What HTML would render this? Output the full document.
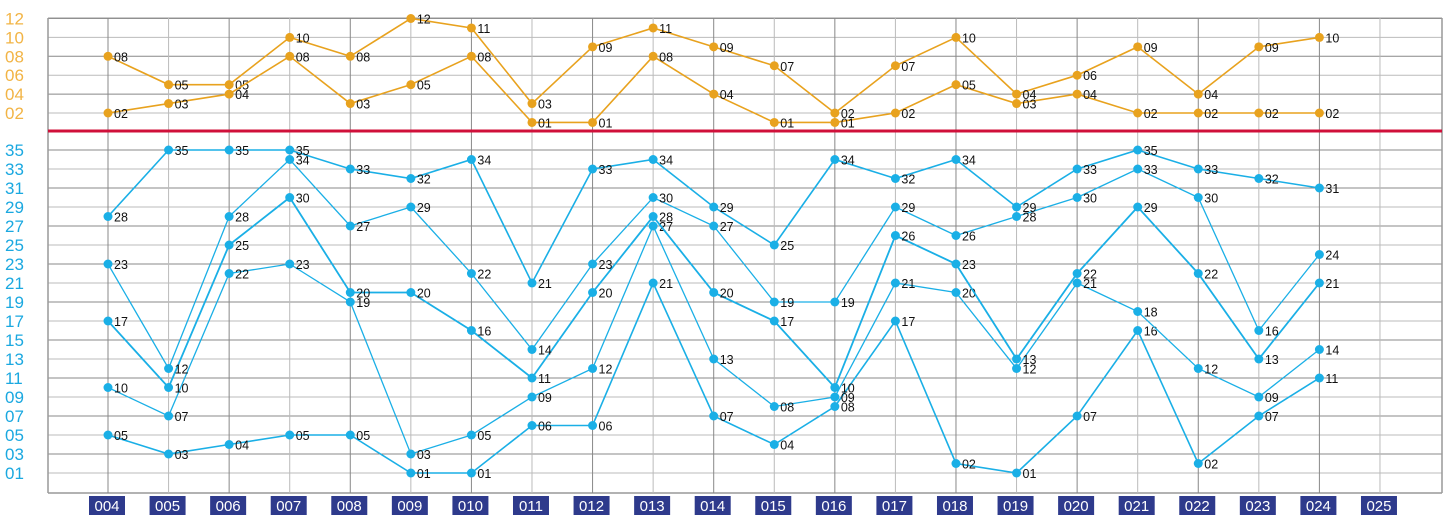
<!DOCTYPE html>
<html><head><meta charset="utf-8"><style>
html,body{margin:0;padding:0;background:#fff;}
svg{display:block;font-family:"Liberation Sans",sans-serif;}
</style></head><body>
<svg id="chart" width="1450" height="531" viewBox="0 0 1450 531" xmlns="http://www.w3.org/2000/svg"></svg>
<script>
const periods = ["004","005","006","007","008","009","010","011","012","013","014","015","016","017","018","019","020","021","022","023","024","025"];
const backHigh = [8,5,5,10,8,12,11,3,9,11,9,7,2,7,10,4,6,9,4,9,10];
const backLow = [2,3,4,8,3,5,8,1,1,8,4,1,1,2,5,3,4,2,2,2,2];
const front1 = [5,3,4,5,5,1,1,6,6,21,7,4,8,17,2,1,7,16,2,7,11];
const front2 = [10,7,22,23,19,3,5,9,12,27,13,8,9,21,20,12,21,18,12,9,14];
const front3 = [17,10,25,30,20,20,16,11,20,28,20,17,10,26,23,13,22,29,22,13,21];
const front4 = [23,12,28,34,27,29,22,14,23,30,27,19,19,29,26,28,30,33,30,16,24];
const front5 = [28,35,35,35,33,32,34,21,33,34,29,25,34,32,34,29,33,35,33,32,31];
const backTicks = [12,10,8,6,4,2];
const frontTicks = [35,33,31,29,27,25,23,21,19,17,15,13,11,9,7,5,3,1];

const NS="http://www.w3.org/2000/svg";
const svg=document.getElementById('chart');
function mk(tag,attrs,parent){const e=document.createElementNS(NS,tag);for(const k in attrs)e.setAttribute(k,attrs[k]);(parent||svg).appendChild(e);return e;}
const L=48,R=1442,T=18,B=493;
const xs=i=>108+i*60.57;
const yb=v=>113-(v-2)*9.45;
const yf=v=>473-(v-1)*9.5;
const pad=n=>String(n).padStart(2,'0');

// grid
const grid=mk('g',{});


backTicks.forEach((v,i)=>mk('line',{x1:L,x2:R,y1:yb(v),y2:yb(v),stroke:i%2?'#bbb':'#888','stroke-width':1},grid));
frontTicks.forEach((v,i)=>mk('line',{x1:L,x2:R,y1:yf(v),y2:yf(v),stroke:i%2?'#bbb':'#888','stroke-width':1},grid));
mk('line',{x1:L,x2:R,y1:B,y2:B,stroke:'#999','stroke-width':1.5},grid);
mk('line',{x1:L,x2:R,y1:T,y2:T,stroke:'#999','stroke-width':1},grid);
mk('line',{x1:L,x2:L,y1:T,y2:B,stroke:'#999','stroke-width':1.5},grid);
mk('line',{x1:R,x2:R,y1:T,y2:B,stroke:'#999','stroke-width':1.5},grid);
periods.forEach((p,i)=>mk('line',{x1:xs(i),x2:xs(i),y1:T,y2:B,stroke:i%2?'#bbb':'#888','stroke-width':1},grid));
const red=mk('line',{x1:L,x2:R,y1:131,y2:131,stroke:'#d0103a','stroke-width':3});



// y tick labels
backTicks.forEach(v=>{const t=mk('text',{x:5,y:yb(v)+6,'font-size':17,fill:'#f2b445'});t.textContent=pad(v);

});
frontTicks.forEach(v=>{const t=mk('text',{x:5,y:yf(v)+6,'font-size':17,fill:'#1aa8e0'});t.textContent=pad(v);

});

// x labels
periods.forEach((p,i)=>{const g=mk('g',{});


mk('rect',{x:xs(i)-19,y:496,width:36,height:19,fill:'#2e3a8c'},g);
const t=mk('text',{x:xs(i)-1,y:511,'font-size':15,fill:'#fff','text-anchor':'middle'},g);t.textContent=p;});

function series(arr,yfn,color,name,w){
  const g=mk('g',{});
  
  
  mk('polyline',{points:arr.map((v,i)=>xs(i)+','+yfn(v)).join(' '),fill:'none',stroke:color,'stroke-width':w},g);
  arr.forEach((v,i)=>{
    const c=mk('circle',{cx:xs(i),cy:yfn(v),r:4.5,fill:color},g);
    
    
    const t=mk('text',{x:xs(i)+6,y:yfn(v)+5,'font-size':12.5,fill:'#111'},g);t.textContent=pad(v);
  });
}
series(backHigh,yb,'#e8a21e','back-high-series',1.6);
series(backLow,yb,'#e8a21e','back-low-series',1.6);
series(front1,yf,'#1aafe6','front-series-1',1.6);
series(front2,yf,'#1aafe6','front-series-2',1.3);
series(front3,yf,'#1aafe6','front-series-3',1.8);
series(front4,yf,'#1aafe6','front-series-4',1.3);
series(front5,yf,'#1aafe6','front-series-5',1.6);
</script>
</body></html>
